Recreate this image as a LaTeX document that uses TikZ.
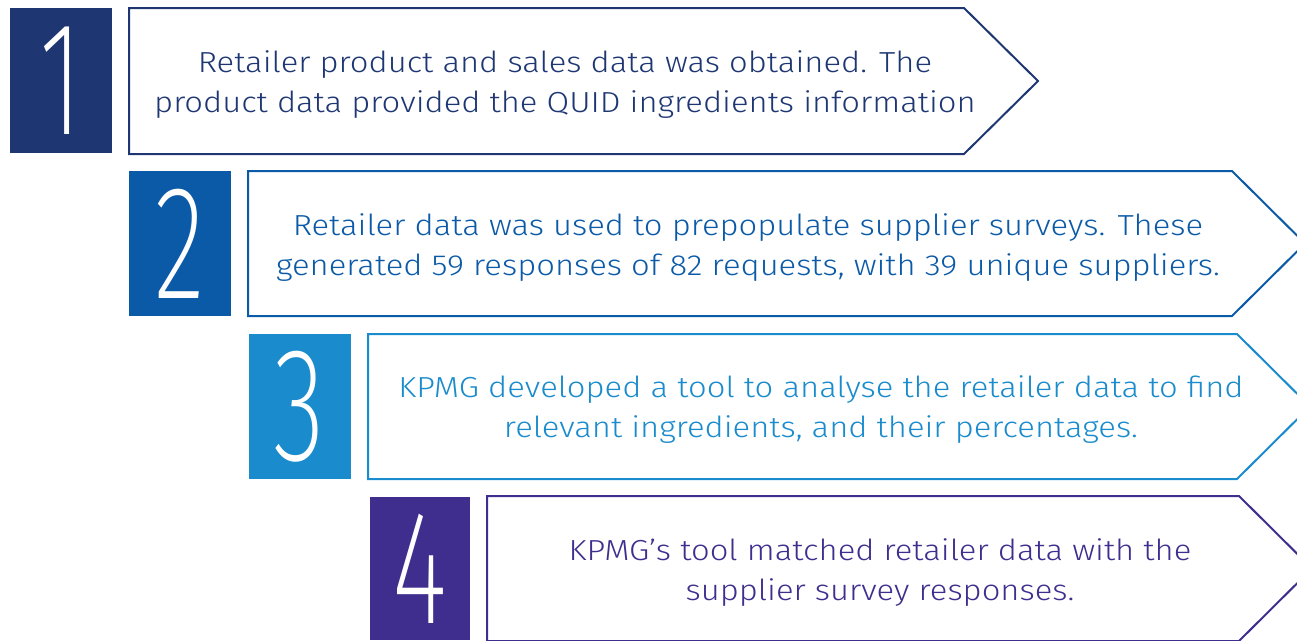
\documentclass[tikz,border=0pt]{standalone}
\usepackage{graphicx}
\usepackage{fontspec}
\setmainfont{Fira Sans Light}[FakeStretch=1.13]
\newfontfamily\digitfont{Fira Sans ExtraLight}
\usetikzlibrary{positioning}
\definecolor{KNavy}{HTML}{1E3773}
\definecolor{KBlue}{HTML}{0B5AA7}
\definecolor{KCyan}{HTML}{1A8BCC}
\definecolor{KPurple}{HTML}{3F2E8E}
\newcommand{\bignum}[1]{\raisebox{-3pt}{\scalebox{0.66}[1]{\digitfont\fontsize{162}{162}\selectfont #1}}}
\tikzset{
  numbox/.style={rectangle, inner sep=0pt, minimum width=102, minimum height=145, text=white},
  chevron/.style={line width=2pt, line join=miter},
  steptext/.style={align=center, inner sep=0pt, font=\fontsize{29}{40}\selectfont}
}

\begin{document}
\begin{tikzpicture}[x=1pt, y=-1pt]
    \useasboundingbox (0,0) rectangle (1297,640);
    \clip (0,0) rectangle (1297,640);

    % Step 1
    \node[numbox, fill=KNavy] (num1) at (61,80.5) {\bignum{1}};
    \draw[chevron, KNavy] (129,8) -- (964,8) -- (1038,81) -- (964,154) -- (129,154) -- cycle;
    \node[steptext, text=KNavy] (txt1) at (565,85) {Retailer product and sales data was obtained. The\\product data provided the QUID ingredients information};

    % Step 2
    \node[numbox, fill=KBlue] (num2) at (180,243.5) {\bignum{2}};
    \draw[chevron, KBlue] (248,171) -- (1232,171) -- (1305,243.5) -- (1232,316) -- (248,316) -- cycle;
    \node[steptext, text=KBlue] (txt2) at (748,248) {Retailer data was used to prepopulate supplier surveys. These\\generated 59 responses of 82 requests, with 39 unique suppliers.};

    % Step 3
    \node[numbox, fill=KCyan] (num3) at (299.5,406.5) {\bignum{3}};
    \draw[chevron, KCyan] (368,334) -- (1237,334) -- (1310,406.5) -- (1237,479) -- (368,479) -- cycle;
    \node[steptext, text=KCyan] (txt3) at (821,410) {KPMG developed a tool to analyse the retailer data to find\\relevant ingredients, and their percentages.};

    % Step 4
    \node[numbox, fill=KPurple, minimum width=100, minimum height=143] (num4) at (420,568.5) {\bignum{4}};
    \draw[chevron, KPurple] (487,496) -- (1239,496) -- (1312,568.5) -- (1239,641) -- (487,641) -- cycle;
    \node[steptext, text=KPurple] (txt4) at (880,573) {KPMG’s tool matched retailer data with the\\supplier survey responses.};
\end{tikzpicture}
\end{document}
